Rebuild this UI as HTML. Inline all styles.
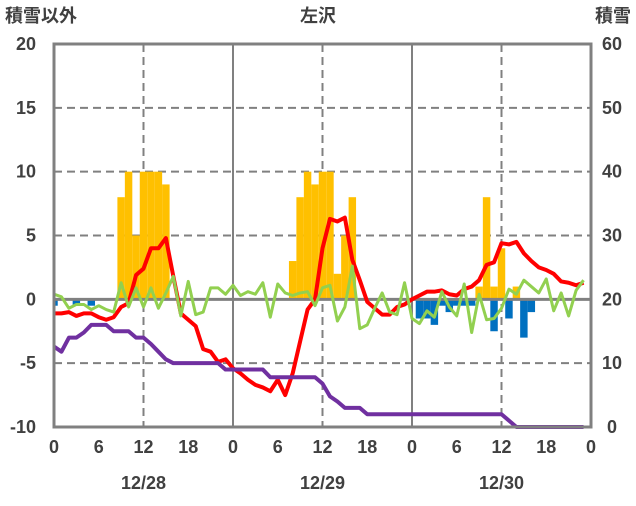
<!DOCTYPE html>
<html><head><meta charset="utf-8"><style>
body{margin:0;background:#fff;}
svg text{font-family:"Liberation Sans","Noto Sans CJK JP",sans-serif;font-size:18px;fill:#404040;font-weight:bold;}
</style></head><body>
<svg id="c" width="636" height="501">
<defs><clipPath id="pc"><rect x="54" y="44" width="537" height="383"/></clipPath></defs>
<text x="5" y="22">積雪以外</text>
<text x="318" y="22" text-anchor="middle">左沢</text>
<text x="631" y="22" text-anchor="end">積雪</text>
</svg>
<script>
const hours=[...Array(72).keys()];
const snowfall=[0,0,0,0,0,0,0,0,0,8,10,5,10,10,10,9,0,0,0,0,0,0,0,0,
0,0,0,0,0,0,0,0,3,8,10,9,10,10,2,5,8,0,0,0,0,0,0,0,
0,0,0,0,0,0,0,0,0,1,8,1,4,0,1,0,0,0,0,0,0,0,0,0];
const melt=[-0.5,0,0,-0.5,0,-0.5,0,0,0,0,0,0,0,0,0,0,0,0,0,0,0,0,0,0,
0,0,0,0,0,0,0,0,0,0,0,0,0,0,0,0,0,0,0,0,0,0,0,0,
0,-1.5,-1.5,-2,-0.5,-1,-0.5,-0.5,-0.5,0,0,-2.5,0,-1.5,0,-3,-1,0,0,0,0,0,0,0];
const temp=[-1.1,-1.1,-1,-1.3,-1.1,-1.1,-1.4,-1.6,-1.4,-0.6,-0.3,1.9,2.4,4,4,4.8,1.8,-1.1,-1.6,-2.1,-3.9,-4.1,-4.9,-4.7,
-5.4,-5.8,-6.3,-6.7,-6.9,-7.2,-6.3,-7.5,-5.8,-3.3,-0.8,0,4,6.3,6.1,6.4,3.1,1.5,-0.2,-0.7,-1.2,-1.2,-0.6,-0.4,
0,0.3,0.6,0.6,0.7,0.4,0.3,0.8,1,1.5,2.7,2.9,4.4,4.3,4.5,3.6,3,2.5,2.3,2,1.4,1.3,1.1,1.3];
const other=[0.4,0.2,-0.7,-0.4,-0.4,-0.8,-0.5,-0.8,-1,1.3,-0.6,0.9,-0.6,0.9,-0.7,0.5,1.8,-1.3,1.4,-1.2,-1,0.9,0.9,0.4,
1.1,0.3,0.6,0.4,1.3,-1.4,1.2,0.5,0.3,0.5,0.6,-0.5,0.9,1.1,-1.7,-0.6,2.6,-2.3,-2,-0.7,0.5,-1,-1.2,1.3,
-1.5,-1.9,-0.9,-1.4,0.6,-0.6,-1.3,1.2,-2.6,0.4,-1.6,-1.5,-0.7,0.8,0.4,1.5,1,0.5,1.6,-0.9,0.5,-1.3,0.7,1.5];
const depth=[12.6,11.8,14,14,14.8,16,16,16,15,15,15,14,14,13,11.8,10.6,10,10,10,10,10,10,10,9,
9,9,9,9,9,7.8,7.8,7.8,7.8,7.8,7.8,7.8,6.8,4.8,4,3,3,3,2,2,2,2,2,2,
2,2,2,2,2,2,2,2,2,2,2,2,2,1,0,0,0,0,0,0,0,0,0,0];
const leftTicks=[20,15,10,5,0,-5,-10];
const rightTicks=[60,50,40,30,20,10,0];
const hourTicks=[0,6,12,18,24,30,36,42,48,54,60,66,72];
const dates=["12/28","12/29","12/30"];

const X0=54,X1=591,Y0=44,Y1=427;
const x=h=>X0+(h)*(X1-X0)/72;
const yl=v=>Y1-(v+10)*(Y1-Y0)/30;
const yr=v=>Y1-v*(Y1-Y0)/60;
const NS="http://www.w3.org/2000/svg";
const svg=document.getElementById('c');
function mk(t,a){const e=document.createElementNS(NS,t);for(const k in a)e.setAttribute(k,a[k]);svg.appendChild(e);return e;}
[15,10,5,-5].forEach(v=>{const e=mk('line',{x1:X0,x2:X1,y1:yl(v),y2:yl(v),stroke:'#808080','stroke-width':2,'stroke-dasharray':'8,5'});

});
[12,36,60].forEach(h=>{const e=mk('line',{x1:x(h),x2:x(h),y1:Y0,y2:Y1,stroke:'#808080','stroke-width':2,'stroke-dasharray':'8,5'});

});
[24,48].forEach(h=>{const e=mk('line',{x1:x(h),x2:x(h),y1:Y0,y2:Y1,stroke:'#808080','stroke-width':2});

});
const bw=(X1-X0)/72;
hours.forEach(h=>{
 if(snowfall[h]>0){const e=mk('rect',{x:x(h)-bw/2,y:yl(snowfall[h]),width:bw,height:yl(0)-yl(snowfall[h]),fill:'#FFC000','clip-path':'url(#pc)'});
 
 }
 if(melt[h]<0){const e=mk('rect',{x:x(h)-bw/2,y:yl(0),width:bw,height:yl(melt[h])-yl(0),fill:'#0070C0','clip-path':'url(#pc)'});
 
 }
});
const z=mk('line',{x1:X0,x2:X1,y1:yl(0),y2:yl(0),stroke:'#808080','stroke-width':3});


function line(arr,f,col,w,name){const e=mk('polyline',{points:arr.map((v,i)=>x(i)+','+f(v)).join(' '),fill:'none',stroke:col,'stroke-width':w,'stroke-linejoin':'round'});

}
line(temp,yl,'#FF0000',4,'temperature-line');
line(depth,yr,'#7030A0',4,'snow-depth-line');
line(other,yl,'#92D050',3,'other-line');
const fr=mk('rect',{x:X0,y:Y0,width:X1-X0,height:Y1-Y0,fill:'none',stroke:'#808080','stroke-width':3});


leftTicks.forEach(v=>{const t=mk('text',{x:36,y:yl(v)+6,'text-anchor':'end'});t.textContent=v;

});
rightTicks.forEach(v=>{const t=mk('text',{x:612,y:yr(v)+6,'text-anchor':'middle'});t.textContent=v;

});
hourTicks.forEach(h=>{const t=mk('text',{x:x(h),y:453,'text-anchor':'middle'});t.textContent=h%24;

});
dates.forEach((d,i)=>{const t=mk('text',{x:x(12+24*i),y:489,'text-anchor':'middle'});t.textContent=d;

});
</script>
</body></html>
